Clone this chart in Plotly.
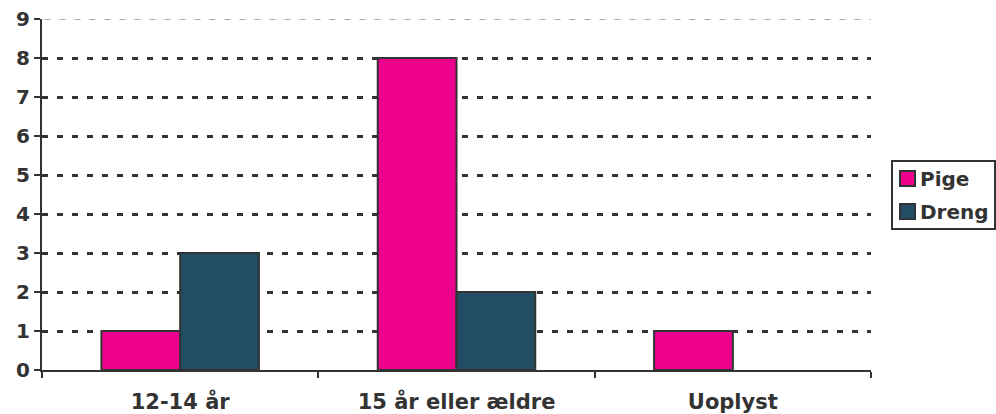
import plotly.graph_objects as go

categories = ["12-14 år", "15 år eller ældre", "Uoplyst"]
series_names = ["Pige", "Dreng"]
pige = [1, 8, 1]
dreng = [3, 2, 0]
colors = ["#EC008C", "#214E63"]
y_ticks = list(range(0, 10))

FONT = "DejaVu Sans"
TXT = "#333333"
EDGE = "#333333"

W, H = 996, 414
ML, MR, MT, MB = 42, 125, 19, 44
PW, PH = W - ML - MR, H - MT - MB

def px_x(px):
    return (px - ML) / PW

def px_y(py):
    return (H - MB - py) / PH

def edge_widths(vals):
    return [2 if v else 0 for v in vals]

fig = go.Figure()
for name, vals, col in zip(series_names, [pige, dreng], colors):
    fig.add_trace(go.Bar(name=name, x=categories, y=vals, showlegend=False,
                         marker=dict(color=col, line=dict(color=EDGE, width=edge_widths(vals)))))

# top gridline is lighter
fig.add_shape(type="line", xref="paper", x0=0, x1=1, yref="y", y0=9, y1=9,
              line=dict(color="white", width=4), layer="above")
fig.add_shape(type="line", xref="paper", x0=0.003, x1=1, yref="y", y0=9, y1=9,
              line=dict(color="#AAAAAA", width=2, dash="6px,9px"), layer="above")

bold = dict(family=FONT, size=20, color=TXT, weight="bold")

# custom legend box
fig.add_shape(type="rect", xref="paper", yref="paper",
              x0=px_x(892), x1=px_x(995), y0=px_y(229), y1=px_y(161),
              line=dict(color=EDGE, width=2), fillcolor="white")
row_tops = [171, 204]
for name, col, top in zip(series_names, colors, row_tops):
    fig.add_shape(type="rect", xref="paper", yref="paper",
                  x0=px_x(900), x1=px_x(915), y0=px_y(top + 15), y1=px_y(top),
                  line=dict(color=EDGE, width=2), fillcolor=col)
    fig.add_annotation(xref="paper", yref="paper", x=px_x(918), y=px_y(top + 7.5),
                       xanchor="left", yanchor="middle", text=name, showarrow=False,
                       font=bold)

fig.update_layout(
    width=W, height=H,
    margin=dict(l=ML, r=MR, t=MT, b=MB, autoexpand=False),
    plot_bgcolor="white", paper_bgcolor="white",
    barmode="group", bargap=0.43, bargroupgap=0,
    font=bold, showlegend=False,
    xaxis=dict(showline=True, linecolor=EDGE, linewidth=2, automargin=False,
               ticks="outside", tickson="boundaries", ticklen=6, tickcolor=EDGE, tickwidth=2,
               tickfont=dict(family=FONT, size=21, color=TXT, weight="bold"),
               ticklabelstandoff=12),
    yaxis=dict(range=[0, 9], tickvals=y_ticks, showline=True, linecolor=EDGE, linewidth=2,
               automargin=False,
               ticks="outside", ticklen=6, tickcolor=EDGE, tickwidth=2,
               showgrid=True, gridcolor="#333333", gridwidth=3, griddash="6px,9px",
               zeroline=False, tickfont=bold),
)

fig.write_html("out.html", post_script="document.body.style.margin='0';",
               config={"displayModeBar": False})
